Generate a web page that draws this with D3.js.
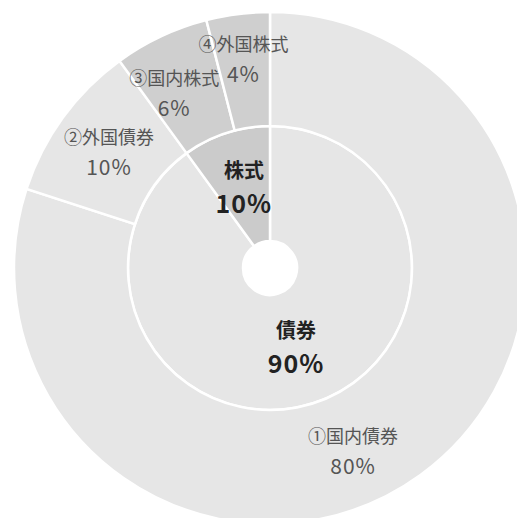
<!DOCTYPE html>
<html>
<head>
<meta charset="utf-8">
<script src="https://cdn.jsdelivr.net/npm/d3@7"></script>
<style>
  body { margin: 0; background: #fff; }
  svg { display: block; }
</style>
</head>
<body>
<svg width="517" height="518"></svg>
<script>
// inner ring: asset class
let innerNames = ['債券', '株式'];
let innerValues = [90, 10];
// outer ring: breakdown
let outerNames = ['①国内債券', '②外国債券', '③国内株式', '④外国株式'];
let outerValues = [80, 10, 6, 4];
let outerGroup = ['債券', '債券', '株式', '株式'];

let cx = 270, cy = 268;
let rHole = 27, rMid = 142, rOut = 256;

let fill = d3.scaleOrdinal()
    .domain(['債券', '株式'])
    .range(['#e6e6e6', '#cbcbcb']);

let svg = d3.select('svg');
let g = svg.append('g').attr('transform', `translate(${cx},${cy})`);

let pie = d3.pie().sort(null).value(d => d.v);

let innerData = pie(innerNames.map((n, i) => ({ n: n, v: innerValues[i], grp: n })));
let outerData = pie(outerNames.map((n, i) => ({ n: n, v: outerValues[i], grp: outerGroup[i] })));

let innerArc = d3.arc().innerRadius(rHole).outerRadius(rMid);
let outerArc = d3.arc().innerRadius(rMid).outerRadius(rOut);

g.selectAll('path.inner')
    .data(innerData)
    .enter().append('path')
    .attr('class', 'inner')
    .attr('d', innerArc)
    .attr('fill', d => fill(d.data.grp))
    .attr('stroke', '#fff')
    .attr('stroke-width', 2.5);

g.selectAll('path.outer')
    .data(outerData)
    .enter().append('path')
    .attr('class', 'outer')
    .attr('d', outerArc)
    .attr('fill', d => d.data.grp == '株式' ? '#cfcfcf' : fill(d.data.grp))
    .attr('stroke', '#fff')
    .attr('stroke-width', 2.5);

let font = "'Noto Sans CJK JP', 'Noto Sans', sans-serif";

// label nudges: angle shift (rad) and radius per outer slice, like the original layout
let outerNudge = [[0.2, 200], [0, 0], [-0.06, 200], [0, 212]];

function labelPos(d, arc, i, ring) {
    let c = arc.centroid(d);
    if (ring == 'outer' && outerNudge[i][1]) {
        let a = (d.startAngle + d.endAngle) / 2 + outerNudge[i][0];
        let r = outerNudge[i][1];
        c = [r * Math.sin(a), -r * Math.cos(a)];
    }
    return c;
}

// outer labels
let ol = g.selectAll('g.olab')
    .data(outerData)
    .enter().append('g')
    .attr('class', 'olab')
    .attr('transform', (d, i) => {
        let c = labelPos(d, outerArc, i, 'outer');
        return `translate(${c[0]},${c[1]})`;
    });
ol.append('text')
    .attr('text-anchor', 'middle')
    .attr('y', -7)
    .attr('font-family', font)
    .attr('font-size', 18)
    .attr('fill', '#555')
    .text(d => d.data.n);
ol.append('text')
    .attr('text-anchor', 'middle')
    .attr('y', 24)
    .attr('font-family', font)
    .attr('font-size', 21)
    .attr('letter-spacing', 1)
    .attr('fill', '#555')
    .text(d => d.data.v + '%');

// inner labels
let il = g.selectAll('g.ilab')
    .data(innerData)
    .enter().append('g')
    .attr('class', 'ilab')
    .attr('transform', (d, i) => {
        let c = labelPos(d, innerArc, i, 'inner');
        return `translate(${c[0]},${c[1]})`;
    });
il.append('text')
    .attr('text-anchor', 'middle')
    .attr('y', -10)
    .attr('font-family', font)
    .attr('font-weight', 'bold')
    .attr('font-size', 20)
    .attr('fill', '#222')
    .text(d => d.data.n);
il.append('text')
    .attr('text-anchor', 'middle')
    .attr('y', 25)
    .attr('font-family', font)
    .attr('font-weight', 'bold')
    .attr('font-size', 25)
    .attr('letter-spacing', 1)
    .attr('fill', '#222')
    .text(d => d.data.v + '%');
</script>
</body>
</html>
